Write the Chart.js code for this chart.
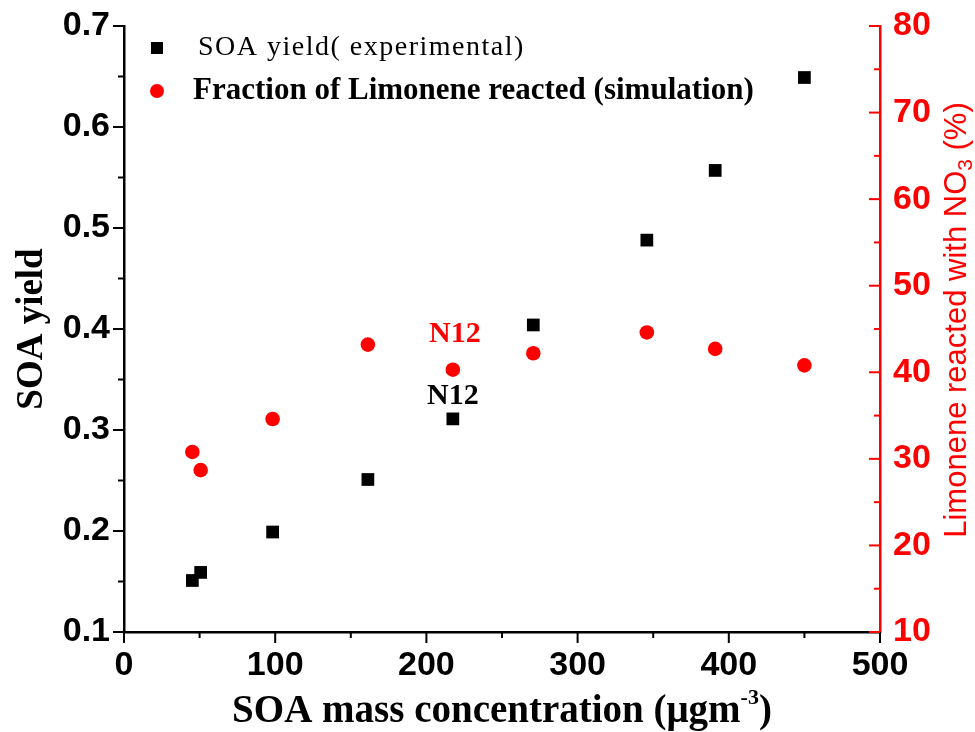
<!DOCTYPE html>
<html lang="en">
<head>
<meta charset="UTF-8">
<title>SOA yield vs SOA mass concentration</title>
<style>
  body { margin: 0; background: #fff; }
  canvas { display: block; }
</style>
</head>
<body>
<canvas id="myChart" width="975" height="732"></canvas>
<script src="https://cdn.jsdelivr.net/npm/chart.js"></script>
<script>
// data
const massConc = [45.2, 50.7, 98.3, 161.3, 217.5, 270.7, 345.8, 391, 450];
const soaYield = [0.151, 0.159, 0.199, 0.251, 0.311, 0.404, 0.488, 0.557, 0.649];
const limReacted = [30.8, 28.7, 34.6, 43.2, 40.3, 42.2, 44.6, 42.7, 40.8];

const xTickLabels = [0, 100, 200, 300, 400, 500];
const yTickLabels = [0.1, 0.2, 0.3, 0.4, 0.5, 0.6, 0.7];
const y2TickLabels = [10, 20, 30, 40, 50, 60, 70, 80];

const pointLabel = 'N12';
const labelIndex = 4;

const sansBold = { family: "'Liberation Sans', Arial, sans-serif", weight: 'bold', size: 34 };
const serif = "'Liberation Serif', 'Times New Roman', serif";
const sans = "'Liberation Sans', Arial, sans-serif";

function pickLabel(list, v) {
    const hit = list.find(l => Math.abs(l - v) < 1e-6);
    return hit === undefined ? '' : String(hit);
}

// fixed axis sizes so the plot box sits where it does in the figure
function fixSize(s, w, h) {
    if (w) s.width = w;
    if (h) s.height = h;
    s.paddingTop = 0;
    s.paddingBottom = 0;
    s.paddingLeft = 0;
    s.paddingRight = 0;
}

// draw a run of [text, font, dy] pieces centred on (0,0)
function drawRuns(ctx, parts) {
    let total = 0;
    parts.forEach(p => { ctx.font = p[1]; total += ctx.measureText(p[0]).width; });
    let x = -total / 2;
    ctx.textAlign = 'left';
    parts.forEach(p => {
        ctx.font = p[1];
        ctx.fillText(p[0], x, p[2]);
        x += ctx.measureText(p[0]).width;
    });
}

// ticks (major + minor), legend, point labels, axis titles with sub/superscripts
const extras = {
    id: 'extras',
    afterDraw(chart) {
        const ctx = chart.ctx;
        const a = chart.chartArea;
        ctx.save();
        ctx.lineWidth = 2;
        ['x', 'y', 'y2'].forEach(id => {
            const s = chart.scales[id];
            ctx.strokeStyle = id === 'y2' ? '#ff0000' : '#000';
            s.ticks.forEach(t => {
                const len = t.label !== '' ? 11 : 6;
                const p = s.getPixelForValue(t.value);
                ctx.beginPath();
                if (id === 'x') { ctx.moveTo(p, a.bottom); ctx.lineTo(p, a.bottom + len); }
                else if (id === 'y') { ctx.moveTo(a.left - len, p); ctx.lineTo(a.left, p); }
                else { ctx.moveTo(a.right - len, p); ctx.lineTo(a.right, p); }
                ctx.stroke();
            });
        });

        // legend
        const lx = a.left + 33;
        ctx.fillStyle = '#000';
        ctx.fillRect(lx - 6, a.top + 16, 12, 12);
        ctx.fillStyle = '#ff0000';
        ctx.beginPath();
        ctx.arc(lx, a.top + 65, 7, 0, Math.PI * 2);
        ctx.fill();
        ctx.textBaseline = 'middle';
        ctx.textAlign = 'left';
        ctx.fillStyle = '#000';
        ctx.font = '28px ' + serif;
        ctx.letterSpacing = '1.5px';
        ctx.fillText(chart.data.datasets[0].label, a.left + 74, a.top + 22);
        ctx.letterSpacing = '0px';
        ctx.font = 'bold 31px ' + serif;
        ctx.fillText(chart.data.datasets[1].label, a.left + 69, a.top + 65);

        // N12 labels
        const sq = chart.getDatasetMeta(0).data[labelIndex];
        const ci = chart.getDatasetMeta(1).data[labelIndex];
        ctx.textAlign = 'center';
        ctx.font = 'bold 30px ' + serif;
        ctx.fillStyle = '#ff0000';
        ctx.fillText(pointLabel, ci.x + 2, ci.y - 35);
        ctx.fillStyle = '#000';
        ctx.fillText(pointLabel, sq.x, sq.y - 23);

        // x axis title with superscript
        ctx.save();
        ctx.translate((a.left + a.right) / 2, 712);
        ctx.fillStyle = '#000';
        drawRuns(ctx, [
            ['SOA mass concentration (μgm', 'bold 39px ' + serif, 0],
            ['-3', 'bold 22px ' + serif, -14],
            [')', 'bold 39px ' + serif, 0]
        ]);
        ctx.restore();

        // right axis title with subscript
        ctx.translate(957, 320);
        ctx.rotate(-Math.PI / 2);
        ctx.fillStyle = '#ff0000';
        drawRuns(ctx, [
            ['Limonene reacted with NO', '31px ' + sans, 0],
            ['3', '21px ' + sans, 9],
            [' (%)', '31px ' + sans, 0]
        ]);
        ctx.restore();
    }
};

const ctx = document.getElementById('myChart');

new Chart(ctx, {
    type: 'scatter',
    data: {
        datasets: [
            {
                label: 'SOA yield( experimental)',
                data: massConc.map((m, i) => ({ x: m, y: soaYield[i] })),
                yAxisID: 'y',
                pointStyle: 'rect',
                pointRadius: 9,
                pointBorderWidth: 0,
                backgroundColor: '#000',
                borderColor: '#000'
            },
            {
                label: 'Fraction of Limonene reacted (simulation)',
                data: massConc.map((m, i) => ({ x: m, y: limReacted[i] })),
                yAxisID: 'y2',
                pointStyle: 'circle',
                pointRadius: 7.3,
                pointBorderWidth: 0,
                backgroundColor: '#ff0000',
                borderColor: '#ff0000'
            }
        ]
    },
    options: {
        responsive: false,
        animation: false,
        devicePixelRatio: 1,
        layout: { padding: { top: 26, left: 0, right: 0, bottom: 0 } },
        plugins: {
            legend: { display: false },
            tooltip: { enabled: false }
        },
        scales: {
            x: {
                type: 'linear',
                position: 'bottom',
                min: 0,
                max: 500,
                afterFit: s => fixSize(s, 0, 100),
                grid: { display: false, drawTicks: false },
                border: { color: '#000', width: 2.5 },
                ticks: {
                    stepSize: 50,
                    autoSkip: false,
                    maxRotation: 0,
                    padding: 13,
                    color: '#000',
                    font: sansBold,
                    callback: v => pickLabel(xTickLabels, v)
                }
            },
            y: {
                type: 'linear',
                position: 'left',
                min: 0.1,
                max: 0.7,
                afterFit: s => fixSize(s, 124, 0),
                grid: { display: false, drawTicks: false },
                border: { color: '#000', width: 2.5 },
                ticks: {
                    stepSize: 0.05,
                    autoSkip: false,
                    padding: 14,
                    color: '#000',
                    font: sansBold,
                    callback: v => pickLabel(yTickLabels, v)
                },
                title: {
                    display: true,
                    text: 'SOA yield',
                    color: '#000',
                    font: { family: serif, weight: 'bold', size: 37, lineHeight: 1 },
                    padding: { top: 14, bottom: 0 }
                }
            },
            y2: {
                type: 'linear',
                position: 'right',
                min: 10,
                max: 80,
                afterFit: s => fixSize(s, 95, 0),
                grid: { display: false, drawTicks: false },
                border: { color: '#ff0000', width: 2.5 },
                ticks: {
                    stepSize: 5,
                    autoSkip: false,
                    padding: 13,
                    color: '#ff0000',
                    font: sansBold,
                    callback: v => pickLabel(y2TickLabels, v)
                }
            }
        }
    },
    plugins: [extras]
});
</script>
</body>
</html>
